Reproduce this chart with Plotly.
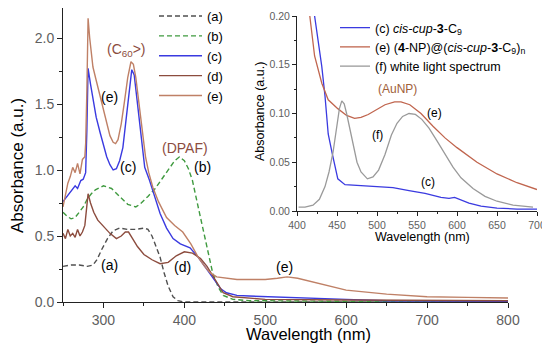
import plotly.graph_objects as go

# ---------------- main chart data ----------------
a_x = [250, 260, 270, 280, 287, 292, 298, 305, 312, 320, 330, 340, 350, 355, 360, 365, 370, 375, 380, 386, 392, 400, 450, 500, 600, 700, 800]
a_y = [0.27, 0.28, 0.28, 0.27, 0.28, 0.32, 0.40, 0.48, 0.54, 0.56, 0.55, 0.55, 0.56, 0.55, 0.50, 0.42, 0.34, 0.22, 0.12, 0.04, 0.01, 0.0, 0.0, 0.0, 0.0, 0.0, 0.0]

b_x = [250, 255, 260, 265, 270, 275, 280, 285, 290, 300, 310, 320, 330, 340, 345, 355, 364, 372, 380, 388, 394, 400, 405, 410, 416, 423, 430, 435, 442, 448, 460, 480, 600, 800]
b_y = [0.68, 0.65, 0.63, 0.64, 0.68, 0.72, 0.78, 0.82, 0.85, 0.88, 0.86, 0.80, 0.74, 0.72, 0.74, 0.80, 0.86, 0.93, 1.00, 1.07, 1.10, 1.07, 1.01, 0.92, 0.75, 0.55, 0.36, 0.22, 0.11, 0.05, 0.02, 0.01, 0.005, 0.005]

c_x = [250, 255, 260, 265, 268, 272, 275, 278, 279.5, 281, 284, 287, 291, 296, 300, 304, 308, 312, 316, 320, 324, 328, 332, 335, 338, 342, 346, 351, 357, 362, 370, 378, 386, 395, 407, 417, 425, 435, 445, 452, 465, 480, 500, 550, 600, 650, 700, 800]
c_y = [0.76, 0.80, 0.84, 0.88, 0.86, 0.92, 0.93, 0.98, 1.30, 1.77, 1.65, 1.55, 1.40, 1.28, 1.18, 1.10, 1.04, 1.00, 1.01, 1.07, 1.17, 1.38, 1.62, 1.76, 1.72, 1.50, 1.25, 1.02, 0.92, 0.82, 0.67, 0.56, 0.48, 0.44, 0.41, 0.34, 0.27, 0.19, 0.10, 0.07, 0.05, 0.045, 0.04, 0.03, 0.02, 0.01, 0.008, 0.005]

d_x = [250, 253, 256, 259, 262, 265, 268, 271, 274, 277, 279, 281, 284, 288, 293, 300, 308, 316, 322, 327, 331, 336, 342, 350, 360, 370, 380, 390, 400, 410, 420, 428, 435, 442, 448, 460, 480, 500, 600, 800]
d_y = [0.52, 0.48, 0.55, 0.50, 0.52, 0.49, 0.55, 0.50, 0.53, 0.58, 0.70, 0.82, 0.75, 0.68, 0.62, 0.57, 0.52, 0.48, 0.50, 0.53, 0.53, 0.48, 0.42, 0.36, 0.32, 0.29, 0.30, 0.35, 0.38, 0.37, 0.33, 0.27, 0.20, 0.12, 0.07, 0.04, 0.03, 0.02, 0.015, 0.01]

e_x = [250, 253, 256, 259, 262, 265, 268, 271, 274, 277, 278, 279.5, 281, 283, 285, 287, 291, 296, 300, 304, 308, 312, 315, 318, 322, 326, 330, 334, 337, 340, 344, 348, 352, 356, 361, 368, 378, 388, 398, 408, 417, 425, 432, 440, 450, 465, 480, 500, 515, 527, 540, 560, 580, 600, 650, 700, 750, 800]
e_y = [0.72, 0.82, 0.90, 0.95, 1.02, 0.98, 1.05, 0.97, 1.08, 1.10, 1.20, 1.60, 2.15, 2.00, 1.88, 1.78, 1.68, 1.56, 1.45, 1.35, 1.26, 1.21, 1.20, 1.23, 1.35, 1.52, 1.70, 1.82, 1.80, 1.70, 1.50, 1.28, 1.10, 0.98, 0.87, 0.76, 0.64, 0.58, 0.53, 0.44, 0.34, 0.27, 0.22, 0.19, 0.18, 0.17, 0.17, 0.17, 0.18, 0.19, 0.18, 0.15, 0.12, 0.09, 0.06, 0.04, 0.035, 0.03]

# ---------------- inset data ----------------
ic_x = [400, 410, 416, 422, 427, 431, 435, 439, 444, 451, 460, 480, 500, 520, 540, 560, 580, 590, 597, 605, 615, 630, 650, 675, 700]
ic_y = [0.42, 0.32, 0.25, 0.20, 0.17, 0.148, 0.118, 0.079, 0.059, 0.033, 0.027, 0.026, 0.025, 0.024, 0.021, 0.018, 0.014, 0.013, 0.014, 0.011, 0.008, 0.005, 0.003, 0.002, 0.002]

ie_x = [400, 410, 416, 422, 431, 439, 451, 462, 472, 480, 489, 500, 510, 522, 530, 541, 555, 570, 585, 600, 625, 650, 675, 700]
ie_y = [0.30, 0.23, 0.20, 0.159, 0.131, 0.114, 0.105, 0.098, 0.095, 0.096, 0.099, 0.104, 0.109, 0.112, 0.112, 0.109, 0.100, 0.087, 0.075, 0.065, 0.050, 0.038, 0.029, 0.022]

if_x = [402, 410, 420, 428, 435, 440, 445, 450, 453, 456, 459, 462, 466, 470, 475, 480, 488, 495, 502, 510, 518, 525, 532, 540, 548, 556, 565, 575, 585, 595, 605, 620, 635, 650, 670, 695]
if_y = [0.004, 0.004, 0.006, 0.012, 0.025, 0.040, 0.060, 0.090, 0.105, 0.113, 0.110, 0.100, 0.085, 0.068, 0.050, 0.040, 0.033, 0.035, 0.042, 0.058, 0.078, 0.090, 0.097, 0.100, 0.099, 0.094, 0.085, 0.072, 0.058, 0.045, 0.034, 0.023, 0.015, 0.010, 0.006, 0.004]

main_names = ["(a)", "(b)", "(c)", "(d)", "(e)"]
inset_names = ["(c) <i>cis-cup</i>-<b>3</b>-C<sub>9</sub>",
               "(e) (<b>4</b>-NP)@(<i>cis-cup</i>-<b>3</b>-C<sub>9</sub>)<sub>n</sub>",
               "(f) white light spectrum"]

COL_A = "#505050"
COL_B = "#3f9a3f"
COL_C = "#3a3ae0"
COL_D = "#8c4c3e"
COL_E = "#bf8066"
COL_IE = "#c0654e"
COL_IF = "#9a9a9a"
FONT = "Liberation Sans, Arial, sans-serif"
DASH = "5px,3px"

fig = go.Figure()
main_series = [
    (a_x, a_y, COL_A, DASH),
    (b_x, b_y, COL_B, DASH),
    (c_x, c_y, COL_C, "solid"),
    (d_x, d_y, COL_D, "solid"),
    (e_x, e_y, COL_E, "solid"),
]
for name, (xs, ys, col, dash) in zip(main_names, main_series):
    fig.add_trace(go.Scatter(x=xs, y=ys, mode="lines", name=name,
                             line=dict(color=col, width=1.4, dash=dash),
                             xaxis="x", yaxis="y", legend="legend"))

inset_series = [
    (ic_x, ic_y, COL_C),
    (ie_x, ie_y, COL_IE),
    (if_x, if_y, COL_IF),
]
for name, (xs, ys, col) in zip(inset_names, inset_series):
    fig.add_trace(go.Scatter(x=xs, y=ys, mode="lines", name=name,
                             line=dict(color=col, width=1.3),
                             xaxis="x2", yaxis="y2", legend="legend2"))

# the page places the figure 8px in from the top-left corner of the window
OFF = 8
def px(xp):
    return (xp - OFF) / 550
def py(yp):
    return (347 - (yp - OFF)) / 347

def axis(size, **kw):
    d = dict(showline=True, linecolor="#222", linewidth=1, ticks="outside",
             tickcolor="#222", showgrid=False, zeroline=False, automargin=False,
             tickfont=dict(family=FONT, color="#606060", size=size))
    d.update(kw)
    return d

Y_TOP = (302 - OFF) / 132.0

fig.update_layout(
    width=550, height=347,
    margin=dict(l=0, r=0, t=0, b=0, autoexpand=False),
    paper_bgcolor="white", plot_bgcolor="white",
    font=dict(family=FONT, color="black"),
    xaxis=axis(14, domain=[px(63), px(508)], range=[250, 800], tick0=300, dtick=100,
               ticklen=5, minor=dict(dtick=50, tick0=250, ticklen=3, ticks="outside", tickcolor="#222"),
               anchor="y"),
    yaxis=axis(14, domain=[py(302), 1.0], range=[0, Y_TOP], tick0=0, dtick=0.5, tickformat=".1f",
               ticklen=5, minor=dict(dtick=0.25, tick0=0, ticklen=3, ticks="outside", tickcolor="#222"),
               anchor="x"),
    xaxis2=axis(10.5, domain=[px(297), px(537)], range=[400, 700], tick0=400, dtick=50,
                ticklen=4, minor=dict(dtick=25, tick0=400, ticklen=2, ticks="outside", tickcolor="#222"),
                anchor="y2"),
    yaxis2=axis(10.5, domain=[py(211), py(16)], range=[0, 0.20], tick0=0, dtick=0.05, tickformat=".2f",
                ticklen=4, minor=dict(dtick=0.025, tick0=0, ticklen=2, ticks="outside", tickcolor="#222"),
                anchor="x2"),
    legend=dict(x=px(154), y=py(1), xanchor="left", yanchor="top",
                bgcolor="rgba(0,0,0,0)", font=dict(family=FONT, size=13, color="black"),
                itemwidth=43, tracegroupgap=0),
    legend2=dict(x=px(335), y=py(13), xanchor="left", yanchor="top",
                 bgcolor="rgba(0,0,0,0)", font=dict(family=FONT, size=12.5, color="black"),
                 itemwidth=30, tracegroupgap=0),
)

ann = []
def lab(text, x, y, xref, yref, size, color="black", angle=0):
    ann.append(dict(text=text, x=x, y=y, xref=xref, yref=yref, showarrow=False,
                    font=dict(family=FONT, size=size, color=color), textangle=angle,
                    xanchor="center", yanchor="middle"))

# main labels
lab("(C<sub>60</sub>&gt;)", 329, 1.91, "x", "y", 14, COL_D)
lab("(e)", 307, 1.55, "x", "y", 14)
lab("(c)", 330, 1.02, "x", "y", 14)
lab("(DPAF)", 401, 1.17, "x", "y", 14, COL_D)
lab("(b)", 423, 1.02, "x", "y", 14)
lab("(a)", 308, 0.28, "x", "y", 14)
lab("(d)", 398, 0.265, "x", "y", 14)
lab("(e)", 524, 0.265, "x", "y", 14)
# inset labels
lab("(AuNP)", 525, 0.125, "x2", "y2", 12, "#a0603a")
lab("(e)", 572, 0.10, "x2", "y2", 12)
lab("(f)", 501, 0.078, "x2", "y2", 12)
lab("(c)", 564, 0.030, "x2", "y2", 12)
# axis titles
lab("Wavelength (nm)", px(308), py(334), "paper", "paper", 16.5)
lab("Absorbance (a.u.)", px(17), py(166), "paper", "paper", 17, angle=-90)
lab("Wavelength (nm)", px(422), py(237), "paper", "paper", 12.5)
lab("Absorbance (a.u.)", px(260), py(112), "paper", "paper", 12.5, angle=-90)
fig.update_layout(annotations=ann)

fig.write_html("out.html")
